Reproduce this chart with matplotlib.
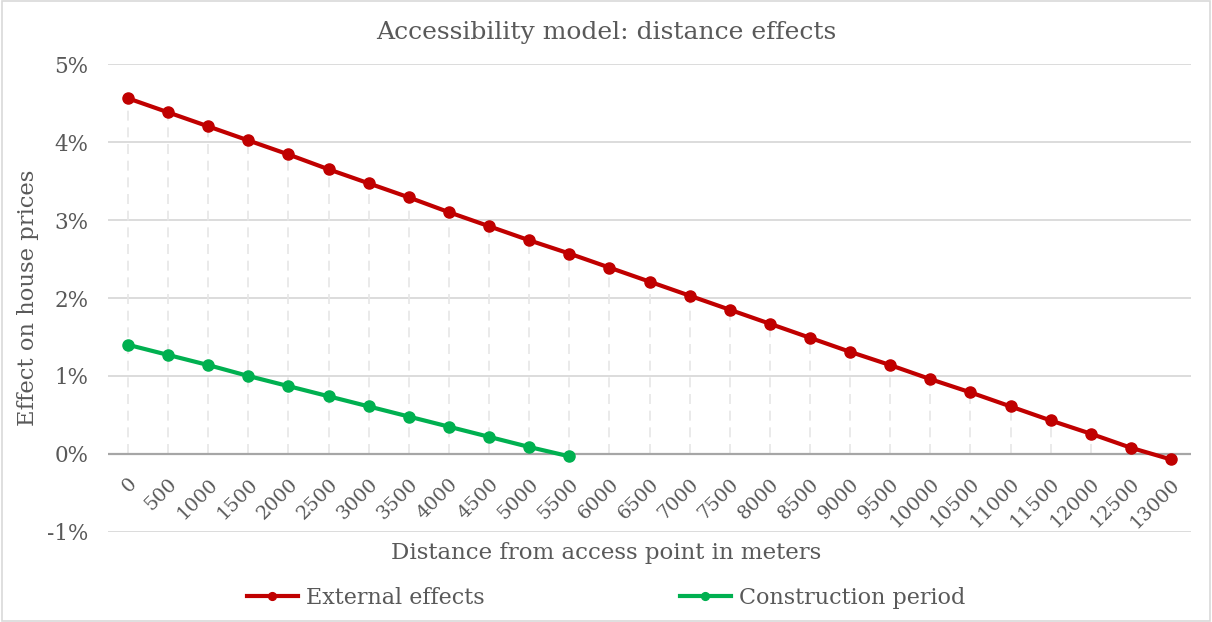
import matplotlib
matplotlib.use("Agg")
import matplotlib.pyplot as plt
from matplotlib.patches import Rectangle
from matplotlib.ticker import FuncFormatter

distances = [str(d) for d in range(0, 13001, 500)]
external_effects = [4.56, 4.38, 4.20, 4.02, 3.84, 3.65, 3.47, 3.29, 3.10, 2.92,
                    2.74, 2.57, 2.39, 2.21, 2.03, 1.85, 1.67, 1.49, 1.31, 1.14,
                    0.96, 0.79, 0.61, 0.43, 0.26, 0.08, -0.07]
construction_period = [1.40, 1.27, 1.14, 1.00, 0.87, 0.74, 0.61, 0.48, 0.35, 0.22,
                       0.09, -0.03]
y_ticks = [-1, 0, 1, 2, 3, 4, 5]

TEXT = "#595959"
plt.rcParams['font.family'] = ['DejaVu Serif']

fig = plt.figure(figsize=(12.12, 6.22), dpi=100)
fig.patches.append(Rectangle((0.002, 0.002), 0.996, 0.996, transform=fig.transFigure,
                             fill=False, edgecolor="#D9D9D9", linewidth=1.2))
ax = fig.add_axes([0.0891, 0.1447, 0.8936, 0.7524])

xs = list(range(len(distances)))
xc = xs[:len(construction_period)]

# drop lines
for i, v in enumerate(external_effects):
    top = max(v, construction_period[i]) if i < len(construction_period) else v
    ax.plot([i, i], [0, top], color="#E6E6E6", linewidth=1.2,
            linestyle=(0, (6, 4)), zorder=1)

for y in y_ticks:
    if y != 0:
        ax.axhline(y, color="#D9D9D9", linewidth=1.3, zorder=0)
ax.axhline(0, color="#A6A6A6", linewidth=1.6, zorder=2)

ax.plot(xs, external_effects, color="#C00000", linewidth=3, marker="o",
        markersize=8, label="External effects", zorder=3)
ax.plot(xc, construction_period, color="#00B050", linewidth=3, marker="o",
        markersize=8, label="Construction period", zorder=3)

ax.set_xlim(-0.5, len(distances) - 0.5)
ax.set_ylim(-1, 5)
ax.set_yticks(y_ticks)
ax.yaxis.set_major_formatter(FuncFormatter(lambda v, p: f"{int(v)}%"))
ax.set_xticks(xs)
ax.set_xticklabels([])
ax.tick_params(axis="y", length=0, pad=14, labelsize=15.5, labelcolor=TEXT)
ax.tick_params(axis="x", length=0)
for s in ax.spines.values():
    s.set_visible(False)

# x tick labels positioned under the 0% line (category axis crosses at 0)
for i, d in enumerate(distances):
    ax.annotate(d, xy=(i, 0), xycoords="data", xytext=(0, -15),
                textcoords="offset points", rotation=45, ha="right", va="top",
                rotation_mode="anchor", fontsize=14, color=TEXT)

fig.text(0.5, 1 - 33 / 622, "Accessibility model: distance effects",
         ha="center", va="center", fontsize=18, color=TEXT)
fig.text(0.5, 1 - 553 / 622, "Distance from access point in meters",
         ha="center", va="center", fontsize=16.5, color=TEXT)
fig.text(28 / 1212, 1 - 298 / 622, "Effect on house prices", rotation=90,
         ha="center", va="center", fontsize=16.3, color=TEXT)

fig.legend(loc="center", bbox_to_anchor=(0.5, 1 - 598 / 622), ncol=2,
           frameon=False, fontsize=16, labelcolor=TEXT, handlelength=2.3,
           handletextpad=0.35, columnspacing=8.8, markerscale=0.7)

fig.savefig("out.png", dpi=100)
